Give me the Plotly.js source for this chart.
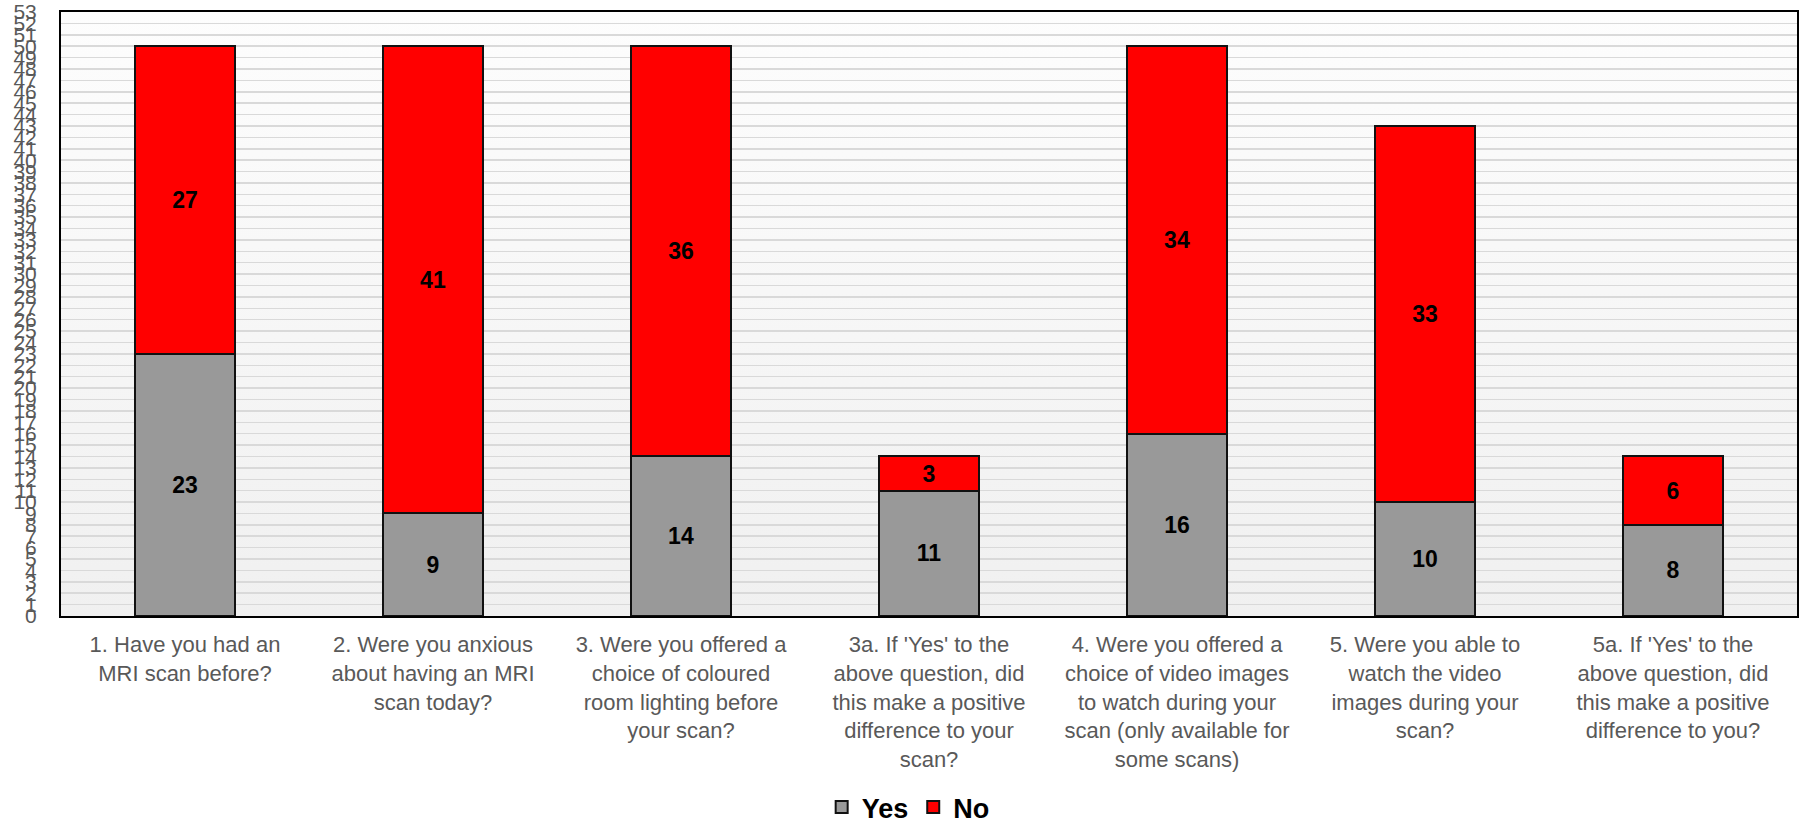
<!DOCTYPE html>
<html>
<head>
<meta charset="utf-8">
<script src="https://cdn.plot.ly/plotly-3.0.1.min.js"></script>
<style>html,body{margin:0;padding:0;background:#fff;}#chart{width:1801px;height:824px;}</style>
</head>
<body>
<div id="chart"></div>
<script>
const categories = [
  "1. Have you had an<br>MRI scan before?",
  "2. Were you anxious<br>about having an MRI<br>scan today?",
  "3. Were you offered a<br>choice of coloured<br>room lighting before<br>your scan?",
  "3a. If 'Yes' to the<br>above question, did<br>this make a positive<br>difference to your<br>scan?",
  "4. Were you offered a<br>choice of video images<br>to watch during your<br>scan (only available for<br>some scans)",
  "5. Were you able to<br>watch the video<br>images during your<br>scan?",
  "5a. If 'Yes' to the<br>above question, did<br>this make a positive<br>difference to you?"
];
const yesValues = [23, 9, 14, 11, 16, 10, 8];
const noValues = [27, 41, 36, 3, 34, 33, 6];
const seriesNames = ["Yes", "No"];

const FONT = "Liberation Sans, Arial, sans-serif";
const bgSvg = '<svg xmlns="http://www.w3.org/2000/svg" width="10" height="100" preserveAspectRatio="none"><defs><linearGradient id="g" x1="0" y1="0" x2="0" y2="1"><stop offset="0" stop-color="#fdfdfd"/><stop offset="1" stop-color="#f0f0f0"/></linearGradient></defs><rect width="10" height="100" fill="url(#g)"/></svg>';

const common = {
  type: "bar",
  x: categories,
  textposition: "inside",
  insidetextanchor: "middle",
  textangle: 0,
  textfont: {family: FONT, size: 23, color: "#000", weight: "bold"},
  hoverinfo: "skip",
  cliponaxis: false
};

const traces = [
  Object.assign({}, common, {
    name: seriesNames[0], y: yesValues, text: yesValues.map(String),
    marker: {color: "#999999", line: {color: "#111", width: 2}}
  }),
  Object.assign({}, common, {
    name: seriesNames[1], y: noValues, text: noValues.map(String),
    marker: {color: "#ff0000", line: {color: "#111", width: 2}}
  })
];

const layout = {
  width: 1801, height: 824,
  margin: {l: 61, r: 4, t: 12, b: 208, autoexpand: false},
  barmode: "stack",
  bargap: 0.6,
  paper_bgcolor: "#ffffff",
  plot_bgcolor: "rgba(0,0,0,0)",
  font: {family: FONT, color: "#595959"},
  images: [{
    source: "data:image/svg+xml;charset=utf-8," + encodeURIComponent(bgSvg),
    xref: "paper", yref: "paper", x: 0, y: 1, sizex: 1, sizey: 1,
    sizing: "stretch", layer: "below", xanchor: "left", yanchor: "top"
  }],
  xaxis: {
    type: "category",
    showgrid: false, zeroline: false,
    showline: true, mirror: true, linecolor: "#000", linewidth: 2,
    ticks: "", tickfont: {family: FONT, size: 22, color: "#595959"},
    ticklabelstandoff: 8, automargin: false
  },
  yaxis: {
    range: [0, 53], tickmode: "linear", tick0: 0, dtick: 1,
    showgrid: true, gridcolor: "#d9d9d9", gridwidth: 1.5,
    zeroline: false,
    showline: true, mirror: true, linecolor: "#000", linewidth: 2,
    ticks: "", tickfont: {family: FONT, size: 21, color: "#595959"},
    ticklabelstandoff: 18, automargin: false
  },
  showlegend: true,
  legend: {
    orientation: "h", x: 0.488, xanchor: "center",
    yref: "container", y: 0.02, yanchor: "middle",
    font: {family: FONT, size: 27, color: "#000", weight: "bold"},
    itemwidth: 30, traceorder: "normal", bgcolor: "rgba(0,0,0,0)"
  }
};

Plotly.newPlot("chart", traces, layout, {displayModeBar: false, staticPlot: true});
</script>
</body>
</html>
